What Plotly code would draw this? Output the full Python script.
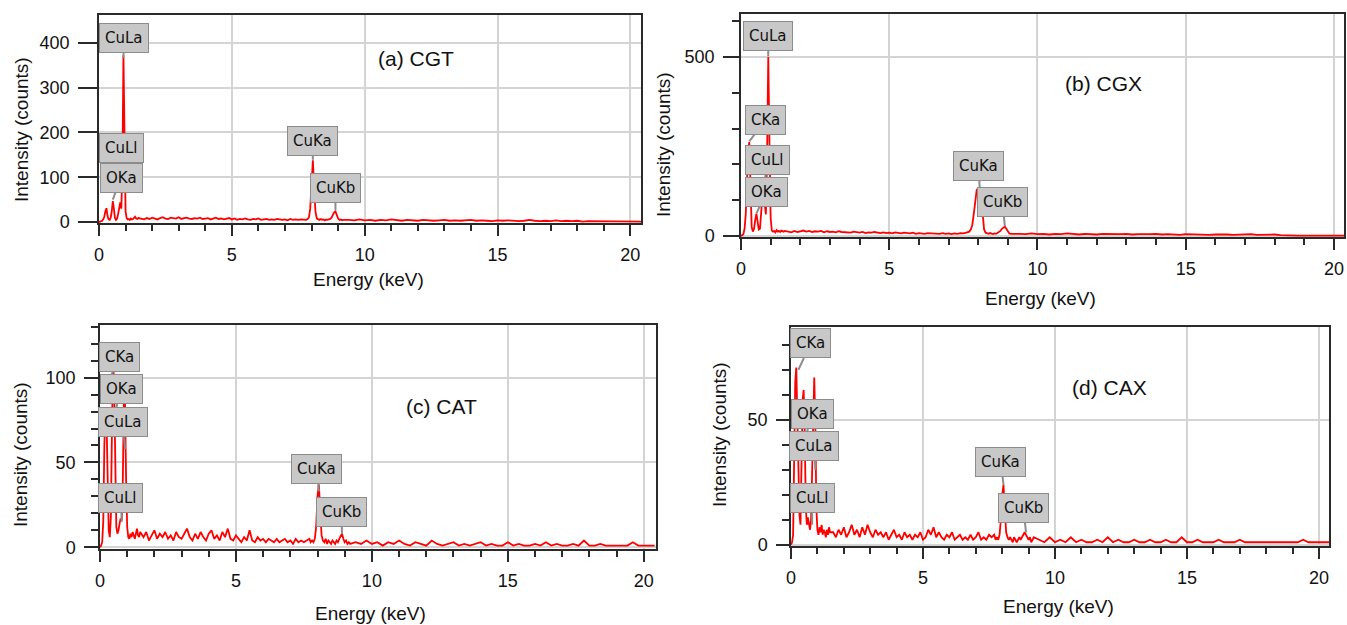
import numpy as np
import plotly.graph_objects as go

# ---- data -------------------------------------------------------------------
# energy sampling (keV): fine around the L lines and the K lines, coarser elsewhere
energy_low = np.round(np.arange(0.0, 1.49, 0.04), 2)     # 38 pts
energy_mid = np.round(np.arange(1.6, 7.71, 0.1), 2)      # 62 pts
energy_ka = np.round(np.arange(7.75, 9.21, 0.05), 2)     # 30 pts
energy_high = np.round(np.arange(9.4, 20.41, 0.2), 2)    # 56 pts
energy_kev = np.concatenate([energy_low, energy_mid, energy_ka, energy_high])

cgt_counts = [
    0, 1, 2, 3, 6, 12, 24, 31, 14, 6, 5, 10, 24,
    47, 30, 9, 5, 8, 18, 34, 44, 30, 120, 372, 150, 24,
    9, 6, 7, 5, 8, 6, 7, 9, 12, 8, 7, 9,
    8, 6, 9, 7, 10, 8, 6, 9, 11, 8,
    7, 10, 9, 8, 11, 7, 9, 10, 8, 7,
    9, 8, 10, 7, 8, 9, 6, 8, 10, 7,
    8, 6, 7, 9, 6, 8, 5, 7, 6, 8,
    6, 5, 7, 6, 8, 5, 6, 7, 5, 6,
    5, 7, 6, 5, 6, 4, 7, 5, 6, 5,
    6, 5,
    6, 5, 7, 10, 30, 95, 138, 70, 22, 8, 6, 5, 7, 5, 6,
    4, 6, 5, 6, 7, 10, 16, 22, 24, 16, 8, 5, 6, 4, 5,
    5, 4, 6, 4, 5, 3, 5, 4, 6, 4,
    3, 5, 4, 3, 5, 4, 3, 4, 5, 3,
    4, 3, 4, 5, 3, 4, 3, 2, 4, 3,
    4, 3, 2, 3, 5, 3, 2, 3, 2, 4,
    2, 3, 2, 3, 1, 2, 2, 1, 2, 1,
    1, 2, 1, 1, 1, 1,
]

cgx_counts = [
    0, 2, 5, 20, 60, 150, 240, 262, 110, 25, 12, 20, 45,
    62, 40, 18, 20, 55, 110, 118, 90, 60, 230, 500, 260, 50,
    15, 12, 14, 10, 16, 12, 14, 11, 15, 13, 12, 14,
    12, 10, 14, 11, 13, 15, 12, 14, 11, 13,
    12, 14, 10, 13, 11, 12, 10, 13, 11, 10,
    11, 9, 12, 10, 9, 11, 8, 10, 9, 11,
    9, 8, 10, 8, 9, 7, 10, 8, 7, 9,
    8, 7, 9, 6, 8, 7, 6, 8, 7, 6,
    7, 6, 8, 6, 7, 5, 7, 6, 8, 7,
    9, 12,
    18, 30, 60, 100, 128, 134, 135, 110, 55, 18, 9, 7, 6, 8, 6,
    5, 7, 6, 8, 10, 14, 20, 24, 26, 20, 12, 7, 6, 5, 6,
    6, 5, 7, 5, 6, 4, 6, 5, 7, 5,
    4, 6, 5, 4, 6, 5, 4, 5, 6, 4,
    5, 4, 5, 6, 4, 5, 4, 3, 5, 4,
    5, 4, 3, 4, 5, 4, 3, 4, 3, 5,
    3, 4, 3, 4, 2, 1, 1, 1, 1, 1,
    1, 1, 1, 1, 1, 1,
]

cat_counts = [
    0, 1, 3, 15, 60, 82, 75, 40, 10, 6, 18, 70, 111,
    95, 40, 12, 8, 10, 14, 17, 16, 40, 89, 85, 40, 12,
    6, 5, 8, 6, 9, 7, 5, 8, 11, 7, 6, 9,
    6, 9, 4, 7, 10, 5, 8, 6, 9, 5,
    7, 4, 9, 6, 5, 8, 11, 6, 4, 8,
    5, 9, 6, 4, 8, 10, 5, 7, 4, 9,
    6, 11, 5, 4, 7, 5, 3, 6, 4, 10,
    4, 3, 6, 4, 5, 3, 5, 4, 3, 5,
    3, 4, 5, 3, 4, 2, 5, 3, 4, 3,
    4, 5,
    3, 4, 3, 5, 12, 30, 37, 20, 7, 4, 3, 5, 2, 4, 3,
    2, 4, 3, 2, 4, 3, 5, 7, 8, 5, 3, 4, 2, 3, 2,
    3, 2, 4, 2, 3, 1, 3, 2, 4, 2,
    1, 3, 2, 1, 4, 2, 1, 2, 3, 1,
    2, 1, 2, 3, 1, 2, 1, 1, 3, 1,
    2, 1, 1, 2, 1, 3, 1, 2, 1, 1,
    2, 1, 4, 1, 1, 2, 1, 1, 1, 1,
    1, 3, 1, 1, 1, 1,
]

cax_counts = [
    0, 1, 4, 30, 65, 71, 55, 30, 12, 8, 30, 58, 62,
    45, 15, 8, 11, 9, 6, 10, 30, 60, 67, 50, 15, 6,
    4, 7, 5, 8, 4, 6, 5, 3, 6, 4, 7, 5,
    5, 3, 6, 4, 7, 3, 5, 8, 4, 6,
    3, 7, 4, 8, 5, 3, 6, 4, 5, 3,
    5, 2, 4, 6, 3, 4, 2, 5, 3, 4,
    2, 4, 3, 5, 2, 3, 6, 4, 7, 3,
    5, 3, 2, 4, 3, 5, 2, 3, 4, 2,
    3, 2, 4, 2, 3, 5, 2, 3, 2, 4,
    3, 4,
    2, 3, 2, 4, 10, 20, 24, 14, 5, 3, 2, 3, 2, 1, 3,
    2, 1, 2, 3, 2, 3, 4, 5, 4, 3, 2, 3, 1, 2, 3,
    2, 1, 3, 1, 2, 1, 3, 1, 2, 1,
    1, 2, 1, 3, 1, 2, 1, 1, 2, 1,
    1, 2, 1, 1, 2, 1, 1, 3, 1, 1,
    2, 1, 1, 1, 2, 1, 1, 1, 2, 1,
    1, 1, 1, 1, 1, 1, 1, 1, 1, 1,
    2, 1, 1, 1, 1, 1,
]

panel_titles = ["(a) CGT", "(b) CGX", "(c) CAT", "(d) CAX"]

# characteristic line energies (keV) used for the peak labels
line_energy = {"CKa": 0.28, "OKa": 0.52, "CuLl": 0.80, "CuLa": 0.92,
               "CuKa": 8.05, "CuKb": 8.90}

# ---- layout -----------------------------------------------------------------
W, H = 1347, 625


def px_x(p):
    return p / W


def px_y(p):
    return 1 - p / H


# per panel: pixel box of plot area, axis ranges, y ticks, label boxes
# label entries: (name, box centre keV, box centre counts, pointer tip counts)
panels = [
    dict(counts=cgt_counts, box=(99, 641, 15, 223), xr=[0, 20.4], yr=[-2, 462],
         ydt=100, ymin=None, ymaj_len=19, title_at=(11.93, 364),
         ytitle=(22, 130), xtitle=(368, 279),
         labels=[("CuLa", 0.94, 410, 366), ("CuLl", 0.83, 165, 125),
                 ("OKa", 0.83, 99, 50), ("CuKa", 8.03, 182, 139),
                 ("CuKb", 8.9, 77, 26)]),
    dict(counts=cgx_counts, box=(741, 1344, 14, 237), xr=[0, 20.34], yr=[-3, 620],
         ydt=500, ymin=100, ymaj_len=16, title_at=(12.24, 427),
         ytitle=(663, 145), xtitle=(1040, 299),
         labels=[("CuLa", 0.91, 559, 502), ("CKa", 0.83, 324, 264),
                 ("CuLl", 0.88, 212, 150), ("OKa", 0.86, 123, 63),
                 ("CuKa", 8.01, 196, 136), ("CuKb", 8.82, 95, 27)]),
    dict(counts=cat_counts, box=(100, 656, 325, 549), xr=[0, 20.45], yr=[-1, 131],
         ydt=50, ymin=10, ymaj_len=14, title_at=(12.57, 83),
         ytitle=(20, 455), xtitle=(370, 613),
         labels=[("CKa", 0.735, 112, 97), ("OKa", 0.79, 93, 78),
                 ("CuLa", 0.85, 74, 58), ("CuLl", 0.77, 29, 15),
                 ("CuKa", 7.98, 46.4, 33), ("CuKb", 8.88, 20.7, 8)]),
    dict(counts=cax_counts, box=(791, 1329, 327, 546), xr=[0, 20.38], yr=[-0.5, 87.2],
         ydt=50, ymin=10, ymaj_len=13, title_at=(12.08, 62.8),
         ytitle=(720, 435), xtitle=(1058, 606),
         labels=[("CKa", 0.74, 80.6, 70), ("OKa", 0.80, 52.2, 42),
                 ("CuLa", 0.89, 39.6, 30), ("CuLl", 0.80, 18.8, 8),
                 ("CuKa", 7.95, 33.2, 24), ("CuKb", 8.81, 14.8, 5)]),
]

AX_COLOR = "#2a2a2a"
GRID = "#d4d4d4"
TXT_FONT = "Liberation Sans, Arial, sans-serif"

fig = go.Figure()
layout = dict(width=W, height=H, margin=dict(l=0, r=0, t=0, b=0, autoexpand=False),
              paper_bgcolor="white", plot_bgcolor="white", showlegend=False,
              font=dict(family=TXT_FONT, color="#111"))
annotations = []

for i, p in enumerate(panels):
    n = "" if i == 0 else str(i + 1)
    xa, ya = "x" + n, "y" + n
    x0, x1, y0, y1 = p["box"]

    fig.add_trace(go.Scatter(x=energy_kev, y=p["counts"], mode="lines",
                             line=dict(color="#ff0000", width=1.8),
                             xaxis=xa, yaxis=ya, hoverinfo="skip"))

    layout["xaxis" + n] = dict(
        domain=[px_x(x0), px_x(x1)], anchor=ya, range=p["xr"], automargin=False,
        dtick=5, tick0=0, ticks="outside", ticklen=11, tickwidth=2, tickcolor=AX_COLOR,
        showline=True, linecolor=AX_COLOR, linewidth=1.5, mirror=True,
        showgrid=True, gridcolor=GRID, gridwidth=1.5, zeroline=False,
        tickfont=dict(size=18), ticklabelstandoff=4,
        minor=dict(dtick=1, tick0=0, ticks="outside", ticklen=6, tickwidth=1.5,
                   tickcolor=AX_COLOR, showgrid=False),
    )
    ymin = dict(ticks="", showgrid=False)
    if p["ymin"]:
        ymin = dict(dtick=p["ymin"], tick0=0, ticks="outside", ticklen=7, tickwidth=1.5,
                    tickcolor=AX_COLOR, showgrid=False)
    layout["yaxis" + n] = dict(
        domain=[px_y(y1), px_y(y0)], anchor=xa, range=p["yr"], automargin=False,
        dtick=p["ydt"], tick0=0, ticks="outside", ticklen=p["ymaj_len"], tickwidth=2,
        tickcolor=AX_COLOR, ticklabelstandoff=5,
        showline=True, linecolor=AX_COLOR, linewidth=1.5, mirror=True,
        showgrid=True, gridcolor=GRID, gridwidth=1.5, zeroline=False,
        tickfont=dict(size=18), minor=ymin,
    )

    # panel caption
    tx, ty = p["title_at"]
    annotations.append(dict(x=tx, y=ty, xref=xa, yref=ya, text=panel_titles[i],
                            xanchor="center", yanchor="middle",
                            showarrow=False, font=dict(size=21, family=TXT_FONT)))
    # axis titles
    annotations.append(dict(x=px_x(p["xtitle"][0]), y=px_y(p["xtitle"][1]),
                            xref="paper", yref="paper", text="Energy (keV)",
                            xanchor="center", yanchor="middle",
                            showarrow=False, font=dict(size=19, family=TXT_FONT)))
    annotations.append(dict(x=px_x(p["ytitle"][0]), y=px_y(p["ytitle"][1]),
                            xref="paper", yref="paper", text="Intensity (counts)",
                            xanchor="center", yanchor="middle",
                            textangle=-90, showarrow=False,
                            font=dict(size=19, family=TXT_FONT)))

    # peak labels (grey call-out boxes)
    for name, bx, by, tip in p["labels"]:
        annotations.append(dict(
            x=line_energy[name], y=tip, xref=xa, yref=ya,
            ax=bx, ay=by, axref=xa, ayref=ya,
            text=name, showarrow=True, arrowhead=0, arrowwidth=2,
            arrowcolor="#8c8c8c", standoff=0, startstandoff=0,
            bgcolor="#c8c8c8", bordercolor="#8c8c8c", borderwidth=1, borderpad=5,
            font=dict(family="DejaVu Sans, sans-serif", size=15, color="#111"),
        ))

layout["annotations"] = annotations
fig.update_layout(**layout)

# the default page body has an 8px margin; drop it so the figure sits at 0,0
fig.write_html("out.html", config={"displayModeBar": False},
               post_script="document.body.style.margin = '0px';")
